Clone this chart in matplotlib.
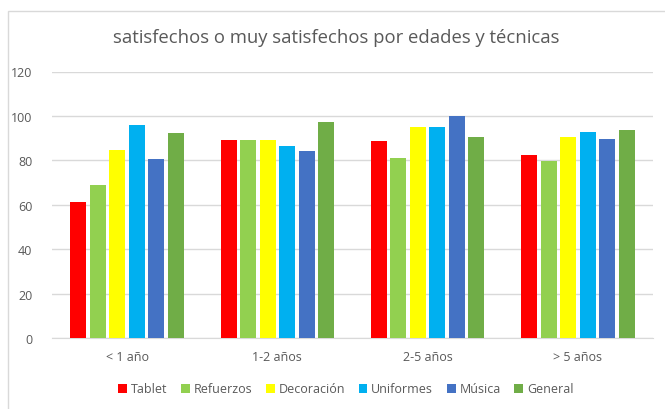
import numpy as np
import matplotlib
matplotlib.use("Agg")
import matplotlib.pyplot as plt
from matplotlib.patches import Rectangle

plt.rcParams['font.family'] = ['Open Sans', 'DejaVu Sans']

# chart data
categories = ['< 1 año', '1-2 años', '2-5 años', '> 5 años']
series_names = ['Tablet', 'Refuerzos', 'Decoración', 'Uniformes', 'Música', 'General']
tablet = [61.1, 89.0, 88.6, 82.3]
refuerzos = [69.1, 89.0, 81.1, 79.7]
decoracion = [84.5, 89.0, 94.9, 90.4]
uniformes = [95.9, 86.3, 94.9, 92.6]
musica = [80.5, 84.2, 100.0, 89.6]
general = [92.2, 97.1, 90.4, 93.7]
y_ticks = [0, 20, 40, 60, 80, 100, 120]

colors = ['#FF0000', '#92D050', '#FFFF00', '#00B0F0', '#4472C4', '#70AD47']
text_color = '#595959'

fig = plt.figure(figsize=(6.65, 4.10), dpi=100)
# outer chart border (Excel style)
fig.patches.append(Rectangle((8 / 665, -0.1), 1.1, 1 - 12 / 410 + 0.1,
                             transform=fig.transFigure, fill=False,
                             edgecolor='#D9D9D9', linewidth=1))

ax = fig.add_axes([52 / 665, 71 / 410, 601 / 665, 266.5 / 410])

x = np.arange(len(categories))
step = 0.13
width = 0.107
all_series = [tablet, refuerzos, decoracion, uniformes, musica, general]
for i, (name, vals) in enumerate(zip(series_names, all_series)):
    offset = (i - 2.5) * step
    ax.bar(x + offset, vals, width, color=colors[i], label=name, zorder=3)

ax.set_xlim(-0.5, len(categories) - 0.5)
ax.set_ylim(0, 120)
ax.set_yticks(y_ticks)
ax.set_xticks(x)
ax.set_xticklabels(categories)
ax.yaxis.grid(True, color='#D9D9D9', linewidth=1, zorder=0)
ax.xaxis.grid(False)
for side in ['top', 'right', 'left']:
    ax.spines[side].set_visible(False)
ax.spines['bottom'].set_color('#D9D9D9')
ax.tick_params(axis='both', length=0, colors=text_color, labelsize=9)
ax.tick_params(axis='x', pad=9)
ax.tick_params(axis='y', pad=14)

fig.text(0.506, 1 - 38 / 410, 'satisfechos o muy satisfechos por edades y técnicas',
         ha='center', va='center', fontsize=13.3, color=text_color)

fig.legend(loc='center', bbox_to_anchor=(0.52, 20 / 410), ncol=6, frameon=False,
           fontsize=9, labelcolor=text_color, handlelength=0.7, handleheight=0.7,
           handletextpad=0.3, columnspacing=1.1)

fig.savefig('out.png', dpi=100)
